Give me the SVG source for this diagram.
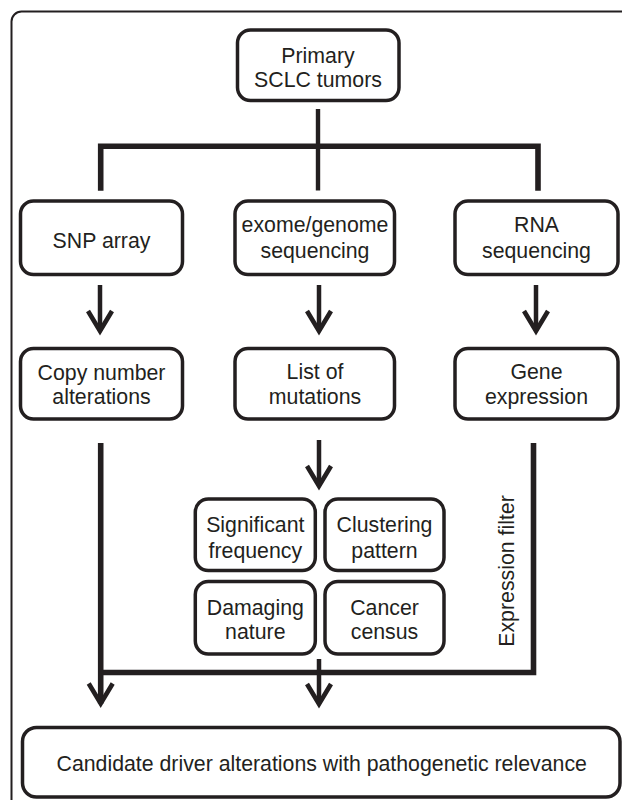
<svg xmlns="http://www.w3.org/2000/svg" width="622" height="800" viewBox="0 0 622 800">
<defs>
<style>
.frame{fill:none;stroke:#231f20;stroke-width:2}
.box{fill:#fff;stroke:#231f20;stroke-width:3.5}
.t{font-family:"Liberation Sans",Arial,sans-serif;font-size:21.3px;fill:#231f20;text-anchor:middle}
.thick{fill:none;stroke:#231f20;stroke-width:5.6;stroke-linejoin:miter}
.thin{fill:none;stroke:#231f20;stroke-width:4.4}
.arr{fill:none;stroke:#231f20;stroke-width:4.5;marker-end:url(#ah)}
.arrw{fill:none;stroke:#231f20;stroke-width:5.6;marker-end:url(#ah)}
</style>
<marker id="ah" markerUnits="userSpaceOnUse" orient="auto" refX="0" refY="0" viewBox="-26 -16 34 32" markerWidth="34" markerHeight="32" overflow="visible">
<path d="M-20,-12 L0,0 L-20,12" fill="none" stroke="#231f20" stroke-width="4.6" stroke-linejoin="miter"/>
</marker>
</defs>
<rect class="frame" x="11.5" y="11.5" width="640" height="820" rx="10"/>

<g id="connectors">
<path class="thin" d="M318,109 V190.5"/>
<path class="thick" d="M100.7,190.7 V146.2 H538 V190.7"/>
<path class="arr" d="M100,285 V331"/>
<path class="arr" d="M319,285 V331"/>
<path class="arr" d="M536,285 V331"/>
<path class="arr" d="M319,440 V486"/>
<path class="thick" d="M100.7,672.5 H533.5 V443"/>
<path class="arrw" d="M100.7,443 V703.5"/>
<path class="arr" d="M319,659 V704"/>
</g>

<g id="primary">
<rect class="box" x="237.5" y="30" width="161.5" height="70.5" rx="13"/>
<text class="t" x="318" y="62.7">Primary</text>
<text class="t" x="318" y="86.7">SCLC tumors</text>
</g>

<g id="snp">
<rect class="box" x="20.5" y="201" width="162" height="73.5" rx="13"/>
<text class="t" x="101.5" y="247.5">SNP array</text>
</g>
<g id="exome">
<rect class="box" x="235" y="201" width="159.5" height="73.5" rx="13"/>
<text class="t" x="315" y="231.7">exome/genome</text>
<text class="t" x="315" y="258.3">sequencing</text>
</g>
<g id="rna">
<rect class="box" x="455" y="201" width="163" height="73.5" rx="13"/>
<text class="t" x="536.5" y="232">RNA</text>
<text class="t" x="536.5" y="258">sequencing</text>
</g>

<g id="cna">
<rect class="box" x="20.5" y="348.5" width="162" height="70.5" rx="13"/>
<text class="t" x="101.5" y="380">Copy number</text>
<text class="t" x="101.5" y="404">alterations</text>
</g>
<g id="mutations">
<rect class="box" x="235" y="348.5" width="159.5" height="70.5" rx="13"/>
<text class="t" x="315" y="379">List of</text>
<text class="t" x="315" y="404">mutations</text>
</g>
<g id="expression">
<rect class="box" x="455" y="348.5" width="163" height="70.5" rx="13"/>
<text class="t" x="536.5" y="379">Gene</text>
<text class="t" x="536.5" y="404">expression</text>
</g>

<g id="significant">
<rect class="box" x="195.3" y="499" width="120" height="71.5" rx="13"/>
<text class="t" x="255.3" y="531.7">Significant</text>
<text class="t" x="255.3" y="558">frequency</text>
</g>
<g id="clustering">
<rect class="box" x="325" y="499" width="119" height="71.5" rx="13"/>
<text class="t" x="384.5" y="531.7">Clustering</text>
<text class="t" x="384.5" y="558">pattern</text>
</g>
<g id="damaging">
<rect class="box" x="195.3" y="581.5" width="120" height="72.5" rx="13"/>
<text class="t" x="255.3" y="615">Damaging</text>
<text class="t" x="255.3" y="639">nature</text>
</g>
<g id="census">
<rect class="box" x="325" y="581.5" width="119" height="72.5" rx="13"/>
<text class="t" x="384.5" y="615">Cancer</text>
<text class="t" x="384.5" y="639">census</text>
</g>

<g id="filter-label">
<text class="t" transform="translate(514,571) rotate(-90)" x="0" y="0">Expression filter</text>
</g>

<g id="candidate">
<rect class="box" x="22.5" y="727.5" width="597.5" height="69.5" rx="14"/>
<text class="t" x="321.7" y="770.7">Candidate driver alterations with pathogenetic relevance</text>
</g>
</svg>
